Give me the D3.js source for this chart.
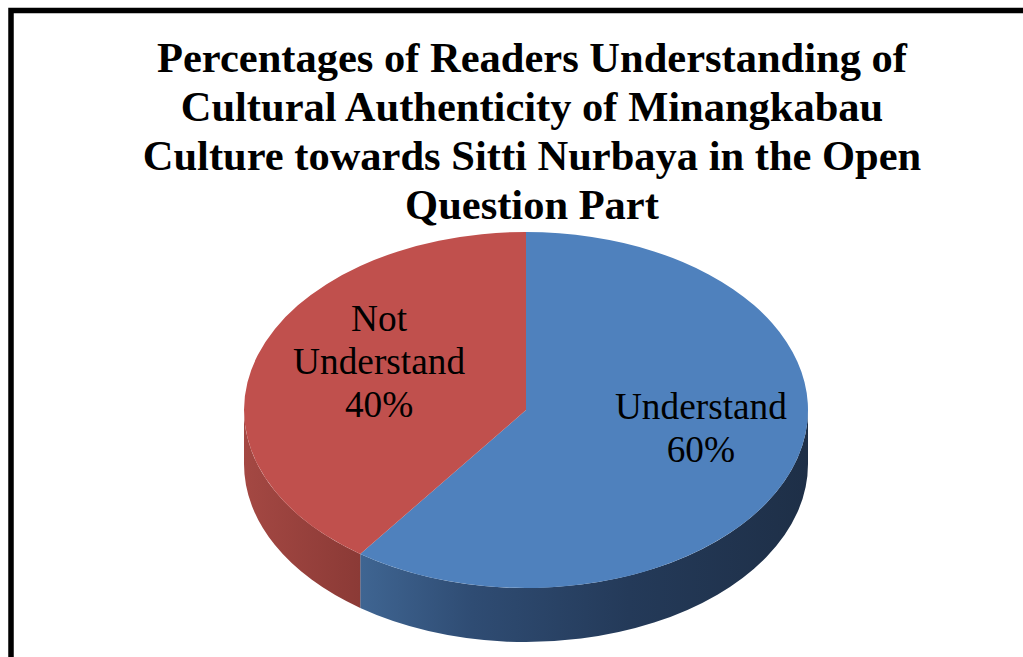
<!DOCTYPE html>
<html>
<head>
<meta charset="utf-8">
<script src="https://cdn.jsdelivr.net/npm/d3@7"></script>
<style>
  html, body { margin: 0; padding: 0; background: #ffffff; }
  svg { display: block; }
</style>
</head>
<body>
<svg id="chart" width="1023" height="657"></svg>
<script>
// ---- data ----
const titleLines = [
  "Percentages of Readers Understanding of",
  "Cultural Authenticity of Minangkabau",
  "Culture towards Sitti Nurbaya in the Open",
  "Question Part"
];
const categories = ["Understand", "Not Understand"];
const percentages = [60, 40];

// ---- styles ----
const topColors = ["#4f81bd", "#c0504d"];
const sideStops = [
  [["0%", "#3f6592"], ["25%", "#2f4c73"], ["60%", "#243a59"], ["100%", "#1e2f47"]],
  [["0%", "#a44843"], ["100%", "#8b3a36"]]
];

const W = 1023, H = 657;
const svg = d3.select("#chart");
const defs = svg.append("defs");

// frame (left and top edges)
svg.append("path")
  .attr("d", `M11,${H + 5} V10.5 H${W + 5}`)
  .attr("fill", "none")
  .attr("stroke", "#000")
  .attr("stroke-width", 5.5);

// title
const title = svg.append("text")
  .attr("text-anchor", "middle")
  .attr("font-family", "'Liberation Serif', 'Times New Roman', serif")
  .attr("font-weight", "bold")
  .attr("font-size", 42.5)
  .attr("fill", "#000");
titleLines.forEach((t, i) => {
  title.append("tspan").attr("x", 532).attr("y", 71.5 + i * 49).text(t);
});

// pie geometry (elliptical projection of a tilted disc)
const cx = 526, cy = 410, rx = 282, ry = 178, depth = 54;
const pt = (a, dy = 0) => [cx + rx * Math.sin(a), cy - ry * Math.cos(a) + dy];

const pie = d3.pie().sort(null).value(d => d)(percentages);

// side walls: only the front half (pi/2 .. 3pi/2) is visible
const sides = svg.append("g");
pie.forEach((d, i) => {
  const s = Math.max(d.startAngle, Math.PI / 2);
  const e = Math.min(d.endAngle, 3 * Math.PI / 2);
  if (s >= e) return;
  const p0 = pt(s), p1 = pt(e), q1 = pt(e, depth), q0 = pt(s, depth);
  const xs = [p0[0], p1[0]];
  const g = defs.append("linearGradient")
    .attr("id", "side" + i)
    .attr("gradientUnits", "userSpaceOnUse")
    .attr("x1", d3.min(xs)).attr("x2", d3.max(xs))
    .attr("y1", 0).attr("y2", 0);
  sideStops[i].forEach(([o, c]) => g.append("stop").attr("offset", o).attr("stop-color", c));
  const large = e - s > Math.PI ? 1 : 0;
  sides.append("path")
    .attr("d", `M${p0} A${rx},${ry} 0 ${large} 1 ${p1} L${q1} A${rx},${ry} 0 ${large} 0 ${q0} Z`)
    .attr("fill", `url(#side${i})`);
});

// top faces
const tops = svg.append("g");
pie.forEach((d, i) => {
  const p0 = pt(d.startAngle), p1 = pt(d.endAngle);
  const large = d.endAngle - d.startAngle > Math.PI ? 1 : 0;
  tops.append("path")
    .attr("d", `M${cx},${cy} L${p0} A${rx},${ry} 0 ${large} 1 ${p1} Z`)
    .attr("fill", topColors[i]);
});

// data labels: category name and percentage, placed inside each slice
const fs = 37.3, lh = 43;
const labels = svg.append("g")
  .attr("font-family", "'Liberation Serif', 'Times New Roman', serif")
  .attr("font-size", fs)
  .attr("fill", "#000")
  .attr("text-anchor", "middle");
pie.forEach((d, i) => {
  const mid = (d.startAngle + d.endAngle) / 2;
  const lx = cx + rx * 0.6 * Math.sin(mid) + 14;
  const ly = cy - ry * 0.6 * Math.cos(mid) - 15;
  const lines = categories[i].split(" ").length > 1 && categories[i].startsWith("Not")
    ? ["Not", categories[i].slice(4), percentages[i] + "%"]
    : [categories[i], percentages[i] + "%"];
  const t = labels.append("text");
  lines.forEach((s, k) => {
    t.append("tspan")
      .attr("x", lx)
      .attr("y", ly + (k - (lines.length - 1) / 2) * lh + fs * 0.33)
      .text(s);
  });
});
</script>
</body>
</html>
